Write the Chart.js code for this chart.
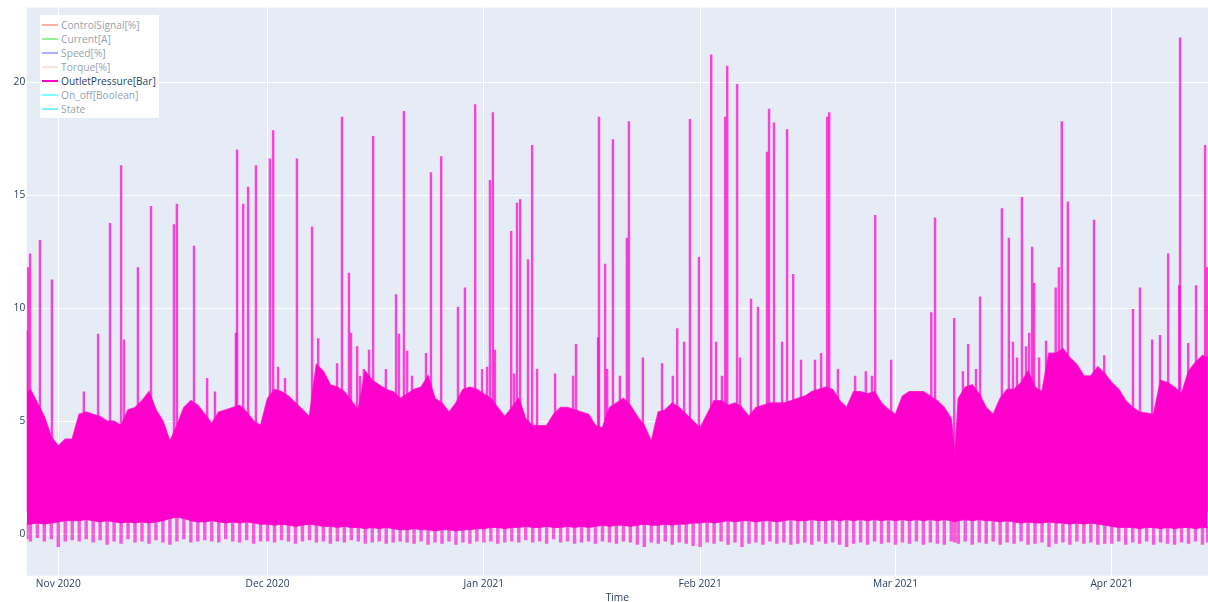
<!DOCTYPE html>
<html>
<head>
<meta charset="utf-8">
<script src="https://cdn.jsdelivr.net/npm/chart.js@4.4.1/dist/chart.umd.min.js"></script>
<style>
html,body{margin:0;padding:0;background:#fff;overflow:hidden;}
#wrap{position:relative;width:1208px;height:602px;}
#legend{position:absolute;left:40px;top:15px;width:119px;height:103px;background:#fff;font-family:'Open Sans',sans-serif;font-size:10.2px;}
.item{position:absolute;left:0;height:14px;display:flex;align-items:center;white-space:nowrap;}
.sw{width:16.6px;height:2px;margin-left:1.7px;margin-right:2.8px;}
</style>
</head>
<body>
<div id="wrap">
<canvas id="c" width="1208" height="602"></canvas>
<div id="legend"></div>
</div>
<script>
// ---- series (legend) ----
const seriesNames = ['ControlSignal[%]','Current[A]','Speed[%]','Torque[%]','OutletPressure[Bar]','On_off[Boolean]','State'];
const seriesColors = ['#ff6347','#32e632','#5a64fa','#fac8b4','#ff00cc','#00ffff','#00ebeb'];
const seriesVisible = [false,false,false,false,true,false,false];

// ---- OutletPressure[Bar]: dense band (top / bottom / lowest dips), read per day ----
const bandTimes = [
'2020-10-27T12:00','2020-10-28','2020-10-29','2020-10-30','2020-10-31',
'2020-11-01','2020-11-02','2020-11-03','2020-11-04','2020-11-05','2020-11-06','2020-11-07','2020-11-08','2020-11-09','2020-11-10','2020-11-11','2020-11-12','2020-11-13','2020-11-14','2020-11-15','2020-11-16','2020-11-17','2020-11-18','2020-11-19','2020-11-20','2020-11-21','2020-11-22','2020-11-23','2020-11-24','2020-11-25','2020-11-26','2020-11-27','2020-11-28','2020-11-29','2020-11-30',
'2020-12-01','2020-12-02','2020-12-03','2020-12-04','2020-12-05','2020-12-06','2020-12-07','2020-12-08','2020-12-09','2020-12-10','2020-12-11','2020-12-12','2020-12-13','2020-12-14','2020-12-15','2020-12-16','2020-12-17','2020-12-18','2020-12-19','2020-12-20','2020-12-21','2020-12-22','2020-12-23','2020-12-24','2020-12-25','2020-12-26','2020-12-27','2020-12-28','2020-12-29','2020-12-30','2020-12-31',
'2021-01-01','2021-01-02','2021-01-03','2021-01-04','2021-01-05','2021-01-06','2021-01-07','2021-01-08','2021-01-09','2021-01-10','2021-01-11','2021-01-12','2021-01-13','2021-01-14','2021-01-15','2021-01-16','2021-01-17','2021-01-18','2021-01-19','2021-01-20','2021-01-21','2021-01-22','2021-01-23','2021-01-24','2021-01-25','2021-01-26','2021-01-27','2021-01-28','2021-01-29','2021-01-30','2021-01-31',
'2021-02-01','2021-02-02','2021-02-03','2021-02-04','2021-02-05','2021-02-06','2021-02-07','2021-02-08','2021-02-09','2021-02-10','2021-02-11','2021-02-12','2021-02-13','2021-02-14','2021-02-15','2021-02-16','2021-02-17','2021-02-18','2021-02-19','2021-02-20','2021-02-21','2021-02-22','2021-02-23','2021-02-24','2021-02-25','2021-02-26','2021-02-27','2021-02-28',
'2021-03-01','2021-03-02','2021-03-03','2021-03-04','2021-03-05','2021-03-06','2021-03-07','2021-03-08','2021-03-09','2021-03-09T12:00','2021-03-10','2021-03-11','2021-03-12','2021-03-13','2021-03-14','2021-03-15','2021-03-16','2021-03-17','2021-03-18','2021-03-19','2021-03-20','2021-03-21','2021-03-22','2021-03-23','2021-03-24','2021-03-25','2021-03-26','2021-03-27','2021-03-28','2021-03-29','2021-03-30','2021-03-31',
'2021-04-01','2021-04-02','2021-04-03','2021-04-04','2021-04-05','2021-04-06','2021-04-07','2021-04-08','2021-04-09','2021-04-10','2021-04-11','2021-04-12','2021-04-13','2021-04-14','2021-04-14T18:00'
];
const bandUpper = [
6.2,6.4,5.8,5.2,4.3,
3.9,4.2,4.2,5.3,5.4,5.3,5.2,5.0,5.0,4.8,5.5,5.6,5.9,6.3,5.5,5.0,4.1,4.8,5.6,5.9,5.7,5.3,4.9,5.4,5.5,5.6,5.7,5.4,5.0,4.8,
6.0,6.4,6.3,6.1,5.8,5.5,5.2,7.5,7.2,6.6,6.5,6.3,5.9,5.5,7.2,6.8,6.6,6.4,6.3,6.0,6.2,6.4,6.5,7.0,6.0,5.8,5.4,5.8,6.4,6.5,6.4,
6.2,6.0,5.6,5.2,5.6,6.0,5.1,4.8,4.8,4.8,5.3,5.6,5.6,5.5,5.4,5.3,4.8,4.7,5.6,5.8,6.0,5.7,5.2,4.8,4.1,5.4,5.5,5.8,5.6,5.3,5.0,
4.7,5.3,5.9,5.9,5.7,5.8,5.6,5.2,5.6,5.7,5.8,5.8,5.8,5.9,6.0,6.1,6.3,6.4,6.5,6.4,5.9,5.6,6.3,6.3,6.2,6.3,5.8,5.5,
5.3,6.1,6.3,6.3,6.3,6.1,5.9,5.6,5.1,3.3,6.0,6.5,6.6,6.2,5.6,5.3,6.0,6.4,6.4,6.7,7.2,6.5,6.3,8.0,8.0,8.2,7.8,7.5,7.0,7.0,7.4,7.1,
6.7,6.4,5.9,5.6,5.4,5.35,5.3,6.8,6.7,6.5,6.2,7.2,7.6,7.9,7.8
];
const bandLower = [
0.45,0.45,0.5,0.45,0.5,
0.55,0.6,0.6,0.6,0.65,0.6,0.55,0.6,0.55,0.5,0.55,0.5,0.55,0.5,0.55,0.6,0.7,0.75,0.7,0.6,0.55,0.55,0.6,0.55,0.5,0.55,0.5,0.55,0.5,0.45,
0.45,0.4,0.45,0.4,0.35,0.4,0.45,0.4,0.35,0.35,0.3,0.35,0.3,0.3,0.25,0.3,0.25,0.3,0.25,0.2,0.2,0.25,0.2,0.2,0.15,0.2,0.2,0.15,0.2,0.2,0.25,
0.25,0.3,0.3,0.25,0.3,0.3,0.35,0.3,0.3,0.35,0.3,0.3,0.35,0.3,0.35,0.3,0.35,0.4,0.35,0.4,0.4,0.35,0.4,0.45,0.4,0.4,0.45,0.4,0.45,0.45,0.5,
0.5,0.55,0.5,0.55,0.6,0.55,0.6,0.6,0.55,0.6,0.6,0.55,0.6,0.65,0.6,0.6,0.65,0.6,0.6,0.65,0.6,0.65,0.6,0.65,0.6,0.65,0.6,0.65,
0.6,0.65,0.6,0.65,0.6,0.65,0.6,0.65,0.6,0.55,0.6,0.65,0.6,0.65,0.6,0.6,0.55,0.6,0.55,0.5,0.55,0.5,0.5,0.55,0.5,0.5,0.45,0.5,0.45,0.5,0.45,0.4,
0.35,0.3,0.3,0.3,0.25,0.3,0.3,0.25,0.3,0.25,0.3,0.3,0.25,0.3,0.3
];
const bandDips = [
-0.2,-0.3,-0.15,-0.3,-0.2,
-0.55,-0.3,-0.25,-0.3,-0.2,-0.35,-0.25,-0.45,-0.3,-0.4,-0.2,-0.35,-0.3,-0.4,-0.25,-0.35,-0.45,-0.3,-0.2,-0.35,-0.3,-0.25,-0.3,-0.35,-0.2,-0.3,-0.35,-0.25,-0.4,-0.3,
-0.3,-0.35,-0.25,-0.3,-0.4,-0.3,-0.25,-0.35,-0.3,-0.4,-0.3,-0.35,-0.25,-0.3,-0.4,-0.35,-0.3,-0.4,-0.35,-0.3,-0.35,-0.4,-0.3,-0.45,-0.35,-0.4,-0.3,-0.45,-0.35,-0.4,-0.3,
-0.35,-0.3,-0.4,-0.35,-0.3,-0.35,-0.25,-0.35,-0.3,-0.4,-0.2,-0.35,-0.3,-0.4,-0.35,-0.3,-0.4,-0.3,-0.35,-0.4,-0.3,-0.35,-0.45,-0.55,-0.35,-0.4,-0.3,-0.45,-0.35,-0.4,-0.5,
-0.55,-0.35,-0.4,-0.3,-0.45,-0.35,-0.55,-0.4,-0.35,-0.45,-0.3,-0.4,-0.35,-0.45,-0.4,-0.35,-0.45,-0.3,-0.4,-0.35,-0.45,-0.55,-0.4,-0.35,-0.45,-0.3,-0.4,-0.35,
-0.45,-0.35,-0.4,-0.3,-0.45,-0.35,-0.4,-0.45,-0.3,-0.35,-0.4,-0.3,-0.45,-0.35,-0.4,-0.3,-0.45,-0.35,-0.4,-0.3,-0.45,-0.4,-0.35,-0.55,-0.4,-0.35,-0.45,-0.3,-0.4,-0.35,-0.45,-0.4,
-0.4,-0.3,-0.45,-0.35,-0.4,-0.3,-0.45,-0.35,-0.4,-0.45,-0.35,-0.4,-0.3,-0.45,-0.35
];

// ---- OutletPressure[Bar]: isolated peaks ----
const spikeTimes = [
'2020-10-27T12:00','2020-10-27T16:00','2020-10-27T23:00','2020-10-29T09:00','2020-10-31T02:00',
'2020-11-04T16:00','2020-11-06T17:00','2020-11-08T10:00','2020-11-10T00:00','2020-11-10T10:00','2020-11-12T10:00','2020-11-14T07:00','2020-11-17T14:00','2020-11-18T00:00','2020-11-20T11:00','2020-11-22T08:00','2020-11-23T11:00','2020-11-26T11:00','2020-11-26T15:00','2020-11-27T12:00','2020-11-28T05:00','2020-11-29T08:00',
'2020-12-01T08:00','2020-12-01T19:00','2020-12-02T12:00','2020-12-03T12:00','2020-12-05T05:00','2020-12-07T09:00','2020-12-08T06:00','2020-12-10T23:00','2020-12-11T16:00','2020-12-12T16:00','2020-12-12T23:00','2020-12-13T20:00','2020-12-14T06:00','2020-12-14T19:00','2020-12-15T13:00','2020-12-16T03:00','2020-12-17T23:00','2020-12-19T10:00','2020-12-19T20:00','2020-12-20T13:00','2020-12-21T00:00','2020-12-21T17:00','2020-12-23T17:00','2020-12-24T10:00','2020-12-25T21:00','2020-12-28T07:00','2020-12-29T07:00','2020-12-30T18:00','2020-12-31T18:00',
'2021-01-01T11:00','2021-01-01T21:00','2021-01-02T07:00','2021-01-02T14:00','2021-01-04T22:00','2021-01-05T08:00','2021-01-05T18:00','2021-01-06T05:00','2021-01-07T08:00','2021-01-07T22:00','2021-01-08T15:00','2021-01-11T05:00','2021-01-13T19:00','2021-01-14T05:00','2021-01-17T09:00','2021-01-17T12:00','2021-01-18T09:00','2021-01-18T16:00','2021-01-19T12:00','2021-01-20T12:00','2021-01-21T12:00','2021-01-21T19:00','2021-01-23T19:00','2021-01-26T13:00','2021-01-28T02:00','2021-01-28T17:00','2021-01-29T17:00','2021-01-30T13:00','2021-01-31T20:00',
'2021-02-02T14:00','2021-02-03T07:00','2021-02-04T03:00','2021-02-04T14:00','2021-02-04T21:00','2021-02-06T07:00','2021-02-06T17:00','2021-02-08T07:00','2021-02-09T07:00','2021-02-10T14:00','2021-02-10T21:00','2021-02-11T14:00','2021-02-12T18:00','2021-02-13T11:00','2021-02-14T08:00','2021-02-15T11:00','2021-02-17T11:00','2021-02-18T08:00','2021-02-19T05:00','2021-02-19T12:00','2021-02-20T18:00','2021-02-23T05:00','2021-02-24T18:00','2021-02-25T15:00','2021-02-26T02:00','2021-02-28T09:00',
'2021-03-06T03:00','2021-03-06T16:00','2021-03-09T10:00','2021-03-10T16:00','2021-03-11T10:00','2021-03-12T13:00','2021-03-13T03:00','2021-03-16T06:00','2021-03-17T06:00','2021-03-17T20:00','2021-03-18T10:00','2021-03-19T03:00','2021-03-19T17:00','2021-03-20T04:00','2021-03-20T14:00','2021-03-20T21:00','2021-03-21T14:00','2021-03-22T14:00','2021-03-23T23:00','2021-03-24T10:00','2021-03-24T20:00','2021-03-25T17:00','2021-03-29T11:00','2021-03-30T22:00',
'2021-04-04T01:00','2021-04-05T01:00','2021-04-06T19:00','2021-04-07T22:00','2021-04-09T02:00','2021-04-10T16:00','2021-04-10T19:00','2021-04-11T23:00','2021-04-13T02:00','2021-04-14T09:00','2021-04-14T16:00'
];
const spikeValues = [
9.0,11.8,12.4,13.0,11.25,
6.3,8.85,13.75,16.3,8.6,11.8,14.5,13.7,14.6,12.75,6.9,6.3,8.9,17.0,14.6,15.35,16.3,
16.6,17.85,7.4,6.9,16.6,13.6,8.65,7.55,18.45,11.55,8.9,8.3,7.0,7.3,8.15,17.6,7.3,10.6,8.85,18.7,8.1,7.0,8.0,16.0,16.7,10.05,10.9,19.0,7.3,
7.4,15.65,18.65,8.15,13.4,7.1,14.65,14.8,12.15,17.2,7.3,7.1,7.0,8.4,8.7,18.45,11.95,7.3,17.45,7.0,13.1,18.25,7.8,7.55,7.0,9.1,8.5,18.35,12.25,
21.2,8.5,7.0,18.45,20.7,19.9,7.8,10.4,10.05,16.9,18.8,18.2,8.5,17.9,11.5,7.7,7.7,8.0,18.45,18.65,7.3,7.0,7.2,7.0,14.1,7.7,
9.8,14.0,9.55,7.2,8.4,7.3,10.5,14.4,13.1,8.5,7.8,14.9,8.3,8.9,12.7,11.1,7.8,8.55,10.9,11.8,18.25,14.7,13.9,7.9,
9.95,10.9,8.6,8.8,12.4,11.0,21.95,8.45,11.0,17.2,11.8
];

// ---- axes ----
const xRangeStart = '2020-10-27T11:20';
const xRangeEnd = '2021-04-14T19:00';
const xTickDates = ['2020-11-01','2020-12-01','2021-01-01','2021-02-01','2021-03-01','2021-04-01'];
const xTickLabels = ['Nov 2020','Dec 2020','Jan 2021','Feb 2021','Mar 2021','Apr 2021'];
const yTickValues = [0,5,10,15,20];
const yRange = [-1.83, 23.29];
const xTitle = 'Time';

// ---------------------------------------------------------------
const toMs = s => Date.parse(s.length === 10 ? s + 'T00:00:00Z' : s + ':00Z');
const MAG = '#ff00cc';
const FONT = {family: "'Open Sans', sans-serif", size: 10.2};
const TXT = '#2a3f5f';

const nBand = Math.min(bandTimes.length, bandUpper.length, bandLower.length, bandDips.length);
const upperPts = [], lowerPts = [], dipPts = [];
for (let i = 0; i < nBand; i++) {
  const t = toMs(bandTimes[i]);
  upperPts.push({x: t, y: bandUpper[i]});
  lowerPts.push({x: t, y: bandLower[i]});
  dipPts.push({x: t, y: [bandDips[i], bandLower[i] + 0.05]});
}
const spikePts = spikeTimes.map((t, i) => ({x: toMs(t), y: [1, spikeValues[i]]}));

const hiddenDs = (i) => ({type: 'line', label: seriesNames[i], data: [], hidden: true, borderColor: seriesColors[i]});

const datasets = [
  hiddenDs(0), hiddenDs(1), hiddenDs(2), hiddenDs(3),
  {type: 'line', label: seriesNames[4], data: upperPts, borderColor: 'rgba(255,0,204,0.8)', backgroundColor: MAG,
   borderWidth: 1.6, pointRadius: 0, tension: 0, fill: '+1'},
  {type: 'line', label: 'band-bottom', data: lowerPts, borderColor: 'rgba(255,0,204,0.8)', borderWidth: 1,
   pointRadius: 0, tension: 0, fill: false},
  hiddenDs(5), hiddenDs(6),
  {type: 'bar', label: 'peaks', data: spikePts, backgroundColor: 'rgba(255,0,204,0.72)',
   borderWidth: 0, barThickness: 1.8, grouped: false},
  {type: 'bar', label: 'dips', data: dipPts, backgroundColor: 'rgba(255,0,204,0.62)',
   borderWidth: 0, barThickness: 2.8, grouped: false}
];

const plotBg = {
  id: 'plotBg',
  beforeDraw(chart) {
    const {ctx, chartArea: a} = chart;
    ctx.save();
    ctx.fillStyle = '#e5ecf6';
    ctx.fillRect(a.left, a.top, a.right - a.left, a.bottom - a.top);
    ctx.restore();
  }
};

const chart = new Chart(document.getElementById('c'), {
  type: 'line',
  data: {datasets},
  plugins: [plotBg],
  options: {
    responsive: false,
    animation: false,
    layout: {padding: {top: 7.3, left: 0, right: 0, bottom: 0}},
    plugins: {legend: {display: false}, tooltip: {enabled: false}},
    scales: {
      x: {
        type: 'linear',
        min: toMs(xRangeStart), max: toMs(xRangeEnd),
        offset: false,
        grid: {color: '#ffffff', lineWidth: 1, drawTicks: false, offset: false},
        border: {display: false},
        afterBuildTicks(scale) { scale.ticks = xTickDates.map(d => ({value: toMs(d)})); },
        afterFit(scale) { scale.height = 26.3; },
        ticks: {autoSkip: false, maxRotation: 0, minRotation: 0, padding: 2, color: TXT, font: FONT,
          callback: (v, i) => xTickLabels[i]},
        title: {display: true, text: xTitle, color: TXT, font: FONT, padding: {top: 0, bottom: -2.2}}
      },
      y: {
        type: 'linear',
        min: yRange[0], max: yRange[1],
        grid: {color: '#ffffff', drawTicks: false, offset: false,
          lineWidth: ctx => (ctx.tick && ctx.tick.value === 0) ? 2 : 1},
        border: {display: false},
        afterBuildTicks(scale) { scale.ticks = yTickValues.map(v => ({value: v})); },
        afterFit(scale) { scale.width = 26.7; },
        ticks: {padding: 1.5, color: TXT, font: FONT, callback: v => String(v)}
      }
    }
  }
});

// ---- legend (HTML, Plotly-style: hidden traces shown faded) ----
const leg = document.getElementById('legend');
seriesNames.forEach((name, i) => {
  const it = document.createElement('div');
  it.className = 'item';
  it.style.top = (2.7 + 14 * i) + 'px';
  it.style.opacity = seriesVisible[i] ? '1' : '0.5';
  const sw = document.createElement('div');
  sw.className = 'sw';
  sw.style.background = seriesColors[i];
  const tx = document.createElement('span');
  tx.textContent = name;
  tx.style.color = TXT;
  it.appendChild(sw); it.appendChild(tx);
  leg.appendChild(it);
});
</script>
</body>
</html>
